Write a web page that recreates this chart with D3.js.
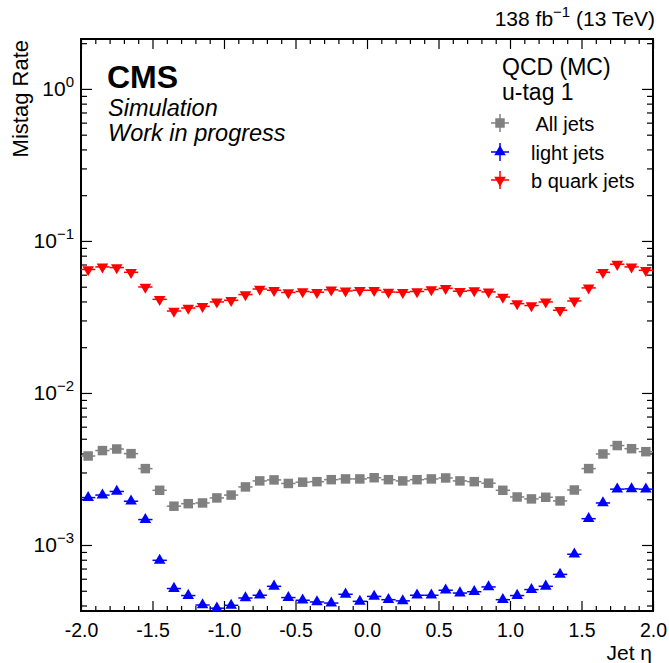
<!DOCTYPE html>
<html>
<head>
<meta charset="utf-8">
<script src="https://cdn.jsdelivr.net/npm/d3@7"></script>
<style>
  html, body { margin: 0; padding: 0; background: #fff; }
  svg { display: block; font-family: "Liberation Sans", Arial, Helvetica, sans-serif; }
</style>
</head>
<body>
<svg id="chart" width="669" height="663"></svg>
<script>
// Jet eta bin centres (bin width 0.1)
const etaCenters = [
  -1.95, -1.85, -1.75, -1.65, -1.55, -1.45, -1.35, -1.25, -1.15, -1.05,
  -0.95, -0.85, -0.75, -0.65, -0.55, -0.45, -0.35, -0.25, -0.15, -0.05,
   0.05,  0.15,  0.25,  0.35,  0.45,  0.55,  0.65,  0.75,  0.85,  0.95,
   1.05,  1.15,  1.25,  1.35,  1.45,  1.55,  1.65,  1.75,  1.85,  1.95
];
const binHalfWidth = 0.05;

// Mistag rate, all jets
const allJets = [
  0.00385, 0.00418, 0.00428, 0.00399, 0.00318, 0.00229, 0.00180, 0.00187, 0.00189, 0.00204,
  0.00213, 0.00241, 0.00264, 0.00268, 0.00254, 0.00259, 0.00261, 0.00269, 0.00272, 0.00272,
  0.00277, 0.00269, 0.00264, 0.00269, 0.00272, 0.00276, 0.00264, 0.00261, 0.00255, 0.00229,
  0.00207, 0.00201, 0.00206, 0.00195, 0.00230, 0.00318, 0.00397, 0.00451, 0.00430, 0.00411
];

// Mistag rate, light-flavour jets
const lightJets = [
  0.00205, 0.00213, 0.00225, 0.00194, 0.00147, 0.000793, 0.000517, 0.000465, 0.000403, 0.000384,
  0.000401, 0.000448, 0.000467, 0.000535, 0.000451, 0.000433, 0.000422, 0.000415, 0.000474, 0.000426,
  0.000459, 0.000437, 0.000429, 0.000467, 0.000467, 0.000504, 0.000483, 0.000493, 0.000530, 0.000437,
  0.000465, 0.000509, 0.000535, 0.000641, 0.000869, 0.00149, 0.00189, 0.00233, 0.00234, 0.00233
];

// Mistag rate, b quark jets
const bJets = [
  0.0649, 0.0675, 0.0668, 0.0622, 0.0498, 0.0413, 0.0346, 0.0362, 0.0371, 0.0397,
  0.0407, 0.0444, 0.0483, 0.0474, 0.0458, 0.0465, 0.0460, 0.0477, 0.0469, 0.0474,
  0.0474, 0.0461, 0.0460, 0.0465, 0.0479, 0.0488, 0.0467, 0.0472, 0.0462, 0.0428,
  0.0387, 0.0376, 0.0397, 0.0350, 0.0403, 0.0491, 0.0622, 0.0703, 0.0675, 0.0641
];

const xMajorTicks = [-2.0, -1.5, -1.0, -0.5, 0.0, 0.5, 1.0, 1.5, 2.0];
const xTickLabels = ["-2.0", "-1.5", "-1.0", "-0.5", "0.0", "0.5", "1.0", "1.5", "2.0"];
const yMajorTicks = [1e-3, 1e-2, 1e-1, 1];
const yTickExponents = ["\u22123", "\u22122", "\u22121", "0"];

const seriesNames = [" All jets", "light jets", "b quark jets"];
const seriesColors = ["#808080", "#0000ff", "#ff0000"];

const svg = d3.select("#chart");
const frameLeft = 81, frameRight = 653, frameTop = 39, frameBottom = 611;

const x = d3.scaleLinear().domain([-2, 2]).range([frameLeft, frameRight]);
const y = d3.scaleLog().domain([3.68e-4, 2.13]).range([frameBottom, frameTop]);

// minor ticks
const xMinor = d3.range(-20, 21).map(i => i / 10).filter(v => !xMajorTicks.some(m => Math.abs(m - v) < 1e-9));
const yMinor = [];
for (let e = -4; e <= 0; e++) {
  for (let m = 2; m <= 9; m++) {
    const v = m * Math.pow(10, e);
    if (v >= y.domain()[0] && v <= y.domain()[1]) yMinor.push(v);
  }
}

function styleAxis(g) {
  g.select(".domain").remove();
  g.selectAll(".tick line").attr("stroke", "#000").attr("stroke-width", 1.2);
}

// bottom axis (major with labels, minor without)
svg.append("g").attr("transform", `translate(0,${frameBottom})`)
  .call(d3.axisBottom(x).tickValues(xMajorTicks).tickSize(-10).tickPadding(12)
    .tickFormat((d, i) => xTickLabels[i]))
  .call(styleAxis)
  .call(g => g.selectAll("text").attr("font-size", 19.5).attr("fill", "#000")
    .attr("font-family", "Liberation Sans, Arial, sans-serif"));
svg.append("g").attr("transform", `translate(0,${frameBottom})`)
  .call(d3.axisBottom(x).tickValues(xMinor).tickSize(-5).tickFormat(""))
  .call(styleAxis);
// top axis
svg.append("g").attr("transform", `translate(0,${frameTop})`)
  .call(d3.axisTop(x).tickValues(xMajorTicks).tickSize(-10).tickFormat(""))
  .call(styleAxis);
svg.append("g").attr("transform", `translate(0,${frameTop})`)
  .call(d3.axisTop(x).tickValues(xMinor).tickSize(-5).tickFormat(""))
  .call(styleAxis);
// left axis
svg.append("g").attr("transform", `translate(${frameLeft},0)`)
  .call(d3.axisLeft(y).tickValues(yMajorTicks).tickSize(-11).tickFormat(""))
  .call(styleAxis);
svg.append("g").attr("transform", `translate(${frameLeft},0)`)
  .call(d3.axisLeft(y).tickValues(yMinor).tickSize(-6).tickFormat(""))
  .call(styleAxis);
// right axis
svg.append("g").attr("transform", `translate(${frameRight},0)`)
  .call(d3.axisRight(y).tickValues(yMajorTicks).tickSize(-11).tickFormat(""))
  .call(styleAxis);
svg.append("g").attr("transform", `translate(${frameRight},0)`)
  .call(d3.axisRight(y).tickValues(yMinor).tickSize(-6).tickFormat(""))
  .call(styleAxis);

// y tick labels as powers of ten
yMajorTicks.forEach((v, i) => {
  const t = svg.append("text")
    .attr("x", 74).attr("y", y(v) + 7)
    .attr("text-anchor", "end").attr("font-size", 21).attr("fill", "#000");
  t.append("tspan").text("10");
  t.append("tspan").attr("dy", -9).attr("font-size", 15).text(yTickExponents[i]);
});

// frame
svg.append("rect")
  .attr("x", frameLeft).attr("y", frameTop)
  .attr("width", frameRight - frameLeft).attr("height", frameBottom - frameTop)
  .attr("fill", "none").attr("stroke", "#000").attr("stroke-width", 2);

// data series
const series = [
  { values: allJets, color: seriesColors[0], shape: "square" },
  { values: lightJets, color: seriesColors[1], shape: "up" },
  { values: bJets, color: seriesColors[2], shape: "down" }
];

const squareSym = d3.symbol().type(d3.symbolSquare).size(90);
const triSym = d3.symbol().type(d3.symbolTriangle).size(58);

function markerPath(shape) {
  return shape === "square" ? squareSym() : triSym();
}
function markerTransform(shape, px, py) {
  return shape === "down" ? `translate(${px},${py}) rotate(180)` : `translate(${px},${py})`;
}

const plot = svg.append("g");
series.forEach(s => {
  const g = plot.append("g");
  // horizontal bin-width bars
  g.selectAll("line.err").data(etaCenters).enter().append("line")
    .attr("x1", d => x(d - binHalfWidth)).attr("x2", d => x(d + binHalfWidth))
    .attr("y1", (d, i) => y(s.values[i])).attr("y2", (d, i) => y(s.values[i]))
    .attr("stroke", s.color).attr("stroke-width", 1.5);
  g.selectAll("path.mk").data(etaCenters).enter().append("path")
    .attr("d", markerPath(s.shape))
    .attr("transform", (d, i) => markerTransform(s.shape, x(d), y(s.values[i])))
    .attr("fill", s.color);
});

// labels
const lum = svg.append("text").attr("x", 655).attr("y", 26)
  .attr("text-anchor", "end").attr("font-size", 21).attr("fill", "#000");
lum.append("tspan").text("138 fb");
lum.append("tspan").attr("dy", -9).attr("font-size", 15).text("\u22121");
lum.append("tspan").attr("dy", 9).text(" (13 TeV)");

svg.append("text").attr("transform", "translate(28,40) rotate(-90)")
  .attr("text-anchor", "end").attr("font-size", 22).attr("fill", "#000").text("Mistag Rate");

const xt = svg.append("text").attr("x", 652).attr("y", 660)
  .attr("text-anchor", "end").attr("font-size", 21).attr("fill", "#000");
xt.append("tspan").text("Jet ");
xt.append("tspan").text("\u03b7");

svg.append("text").attr("x", 107).attr("y", 88)
  .attr("font-size", 32).attr("font-weight", "bold").attr("fill", "#000").text("CMS");
svg.append("text").attr("x", 108).attr("y", 116)
  .attr("font-size", 23.5).attr("font-style", "italic").attr("fill", "#000").text("Simulation");
svg.append("text").attr("x", 108).attr("y", 141)
  .attr("font-size", 23.5).attr("font-style", "italic").attr("fill", "#000").text("Work in progress");

// legend
svg.append("text").attr("x", 502).attr("y", 75).attr("font-size", 23).attr("fill", "#000").text("QCD (MC)");
svg.append("text").attr("x", 502).attr("y", 100).attr("font-size", 23).attr("fill", "#000").text("u-tag 1");

const legY = [123, 152, 180];
series.forEach((s, i) => {
  const g = svg.append("g");
  g.append("line").attr("x1", 491).attr("x2", 509).attr("y1", legY[i]).attr("y2", legY[i])
    .attr("stroke", s.color).attr("stroke-width", 1.5);
  g.append("line").attr("x1", 500).attr("x2", 500).attr("y1", legY[i] - 9).attr("y2", legY[i] + 9)
    .attr("stroke", s.color).attr("stroke-width", 1.5);
  g.append("path").attr("d", markerPath(s.shape))
    .attr("transform", markerTransform(s.shape, 500, legY[i])).attr("fill", s.color);
  g.append("text").attr("x", 531).attr("y", legY[i] + 8)
    .attr("font-size", 20).attr("fill", "#000").attr("xml:space", "preserve")
    .style("white-space", "pre").text(seriesNames[i]);
});
</script>
</body>
</html>
